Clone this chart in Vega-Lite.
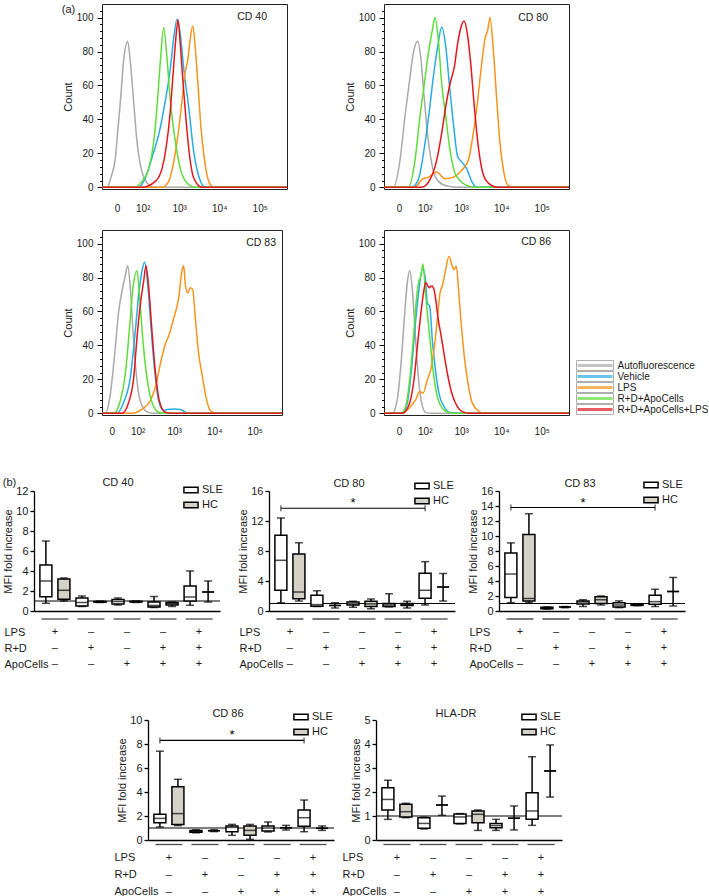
{
"$schema":"https://vega.github.io/schema/vega-lite/v6.json",
"padding":{"left":2,"top":3,"right":0,"bottom":0},
"background":"white",
"config":{
 "font":"Liberation Sans",
 "view":{"stroke":null},
 "axis":{"grid":false,"domainColor":"#000","tickColor":"#000","labelColor":"#1a1a1a","titleColor":"#1a1a1a","titleFontWeight":"normal","labelFontSize":11,"titleFontSize":11,"labelOverlap":false},
 "axisY":{"labelOverlap":false},
 "title":{"fontSize":11,"fontWeight":"normal","color":"#1a1a1a"},
 "legend":{"labelFontSize":11,"labelColor":"#1a1a1a"}
},
"datasets":{
"cd40":[
{"series":"Autofluorescence","intensity":-40,"count":0},{"series":"Autofluorescence","intensity":-22.6,"count":0},{"series":"Autofluorescence","intensity":-11.9,"count":6},{"series":"Autofluorescence","intensity":-2.9,"count":17},{"series":"Autofluorescence","intensity":1.9,"count":35},{"series":"Autofluorescence","intensity":6.4,"count":50},{"series":"Autofluorescence","intensity":14.1,"count":75},{"series":"Autofluorescence","intensity":25.4,"count":86},{"series":"Autofluorescence","intensity":34.2,"count":74},{"series":"Autofluorescence","intensity":47.9,"count":50},{"series":"Autofluorescence","intensity":63.9,"count":27},{"series":"Autofluorescence","intensity":94.8,"count":9},{"series":"Autofluorescence","intensity":152,"count":1.6},{"series":"Autofluorescence","intensity":231,"count":0},{"series":"Autofluorescence","intensity":470000,"count":0},
{"series":"Vehicle","intensity":-40,"count":0},{"series":"Vehicle","intensity":73.5,"count":0},{"series":"Vehicle","intensity":120.7,"count":5.5},{"series":"Vehicle","intensity":213,"count":21},{"series":"Vehicle","intensity":292.6,"count":31},{"series":"Vehicle","intensity":439,"count":51},{"series":"Vehicle","intensity":593,"count":70},{"series":"Vehicle","intensity":725,"count":88},{"series":"Vehicle","intensity":881,"count":99},{"series":"Vehicle","intensity":1069,"count":90},{"series":"Vehicle","intensity":1302,"count":70},{"series":"Vehicle","intensity":1740,"count":47},{"series":"Vehicle","intensity":2321,"count":21},{"series":"Vehicle","intensity":3202,"count":5.5},{"series":"Vehicle","intensity":4520,"count":0},{"series":"Vehicle","intensity":470000,"count":0},
{"series":"LPS","intensity":-40,"count":0},{"series":"LPS","intensity":359,"count":0},{"series":"LPS","intensity":538,"count":3.5},{"series":"LPS","intensity":725,"count":15},{"series":"LPS","intensity":934,"count":31},{"series":"LPS","intensity":1180,"count":51},{"series":"LPS","intensity":1380,"count":66},{"series":"LPS","intensity":1671,"count":76},{"series":"LPS","intensity":1909,"count":88},{"series":"LPS","intensity":2192,"count":95},{"series":"LPS","intensity":2545,"count":82},{"series":"LPS","intensity":2971,"count":60},{"series":"LPS","intensity":3529,"count":35},{"series":"LPS","intensity":4266,"count":17},{"series":"LPS","intensity":5489,"count":3.5},{"series":"LPS","intensity":7296,"count":0},{"series":"LPS","intensity":470000,"count":0},
{"series":"R+D+ApoCells","intensity":-40,"count":0},{"series":"R+D+ApoCells","intensity":55.4,"count":0},{"series":"R+D+ApoCells","intensity":94.8,"count":3.5},{"series":"R+D+ApoCells","intensity":152.7,"count":11},{"series":"R+D+ApoCells","intensity":213,"count":27},{"series":"R+D+ApoCells","intensity":262,"count":47},{"series":"R+D+ApoCells","intensity":323,"count":74},{"series":"R+D+ApoCells","intensity":398,"count":94},{"series":"R+D+ApoCells","intensity":486,"count":76},{"series":"R+D+ApoCells","intensity":593,"count":51},{"series":"R+D+ApoCells","intensity":797,"count":27},{"series":"R+D+ApoCells","intensity":1069,"count":11},{"series":"R+D+ApoCells","intensity":1577,"count":2.5},{"series":"R+D+ApoCells","intensity":2545,"count":0},{"series":"R+D+ApoCells","intensity":470000,"count":0},
{"series":"R+D+ApoCells+LPS","intensity":-40,"count":0},{"series":"R+D+ApoCells+LPS","intensity":94.8,"count":0},{"series":"R+D+ApoCells+LPS","intensity":235.5,"count":3.5},{"series":"R+D+ApoCells+LPS","intensity":359,"count":11},{"series":"R+D+ApoCells+LPS","intensity":458,"count":23},{"series":"R+D+ApoCells+LPS","intensity":593,"count":45},{"series":"R+D+ApoCells+LPS","intensity":684,"count":64},{"series":"R+D+ApoCells+LPS","intensity":797,"count":84},{"series":"R+D+ApoCells+LPS","intensity":934,"count":98.6},{"series":"R+D+ApoCells+LPS","intensity":1069,"count":84},{"series":"R+D+ApoCells+LPS","intensity":1229,"count":64},{"series":"R+D+ApoCells+LPS","intensity":1429,"count":45},{"series":"R+D+ApoCells+LPS","intensity":1740,"count":23},{"series":"R+D+ApoCells+LPS","intensity":2321,"count":5.5},{"series":"R+D+ApoCells+LPS","intensity":3737,"count":0},{"series":"R+D+ApoCells+LPS","intensity":470000,"count":0}
],
"cd80":[
{"series":"Autofluorescence","intensity":-40,"count":0},{"series":"Autofluorescence","intensity":-11.2,"count":0},{"series":"Autofluorescence","intensity":1.9,"count":16},{"series":"Autofluorescence","intensity":12.4,"count":42},{"series":"Autofluorescence","intensity":26.3,"count":65},{"series":"Autofluorescence","intensity":38,"count":79},{"series":"Autofluorescence","intensity":57.3,"count":86},{"series":"Autofluorescence","intensity":75.2,"count":75},{"series":"Autofluorescence","intensity":90,"count":59},{"series":"Autofluorescence","intensity":115.6,"count":36},{"series":"Autofluorescence","intensity":163.7,"count":14},{"series":"Autofluorescence","intensity":251,"count":3.5},{"series":"Autofluorescence","intensity":466,"count":0.6},{"series":"Autofluorescence","intensity":830,"count":0},{"series":"Autofluorescence","intensity":470000,"count":0},
{"series":"Vehicle","intensity":-40,"count":0},{"series":"Vehicle","intensity":32.1,"count":0},{"series":"Vehicle","intensity":60.3,"count":4.5},{"series":"Vehicle","intensity":102,"count":26},{"series":"Vehicle","intensity":136,"count":43.6},{"series":"Vehicle","intensity":181.6,"count":65},{"series":"Vehicle","intensity":241.5,"count":83},{"series":"Vehicle","intensity":311,"count":94.5},{"series":"Vehicle","intensity":398,"count":83},{"series":"Vehicle","intensity":495,"count":61},{"series":"Vehicle","intensity":629,"count":38},{"series":"Vehicle","intensity":816,"count":18},{"series":"Vehicle","intensity":1032,"count":15},{"series":"Vehicle","intensity":1380,"count":11},{"series":"Vehicle","intensity":1844,"count":3.5},{"series":"Vehicle","intensity":2459,"count":0},{"series":"Vehicle","intensity":470000,"count":0},
{"series":"LPS","intensity":-40,"count":0},{"series":"LPS","intensity":44.9,"count":0},{"series":"LPS","intensity":79.5,"count":4.5},{"series":"LPS","intensity":129.7,"count":6},{"series":"LPS","intensity":226.8,"count":9},{"series":"LPS","intensity":381,"count":5},{"series":"LPS","intensity":629,"count":6},{"series":"LPS","intensity":1032,"count":10},{"series":"LPS","intensity":1515,"count":16},{"series":"LPS","intensity":2022,"count":32},{"series":"LPS","intensity":2605,"count":51.5},{"series":"LPS","intensity":3277,"count":73},{"series":"LPS","intensity":3964,"count":87.7},{"series":"LPS","intensity":4621,"count":92.6},{"series":"LPS","intensity":5266,"count":100},{"series":"LPS","intensity":6366,"count":81},{"series":"LPS","intensity":7729,"count":51.5},{"series":"LPS","intensity":9314,"count":26},{"series":"LPS","intensity":11697,"count":8.4},{"series":"LPS","intensity":14940,"count":1},{"series":"LPS","intensity":21900,"count":0},{"series":"LPS","intensity":470000,"count":0},
{"series":"R+D+ApoCells","intensity":-40,"count":0},{"series":"R+D+ApoCells","intensity":21.2,"count":0},{"series":"R+D+ApoCells","intensity":44.9,"count":16},{"series":"R+D+ApoCells","intensity":69.4,"count":42},{"series":"R+D+ApoCells","intensity":97,"count":61},{"series":"R+D+ApoCells","intensity":129.7,"count":79},{"series":"R+D+ApoCells","intensity":170.3,"count":92.6},{"series":"R+D+ApoCells","intensity":203,"count":100},{"series":"R+D+ApoCells","intensity":251,"count":87},{"series":"R+D+ApoCells","intensity":311,"count":61},{"series":"R+D+ApoCells","intensity":398,"count":42},{"series":"R+D+ApoCells","intensity":516,"count":22},{"series":"R+D+ApoCells","intensity":696,"count":8.4},{"series":"R+D+ApoCells","intensity":1250,"count":1.6},{"series":"R+D+ApoCells","intensity":2229,"count":0},{"series":"R+D+ApoCells","intensity":470000,"count":0},
{"series":"R+D+ApoCells+LPS","intensity":-40,"count":0},{"series":"R+D+ApoCells+LPS","intensity":79.5,"count":0},{"series":"R+D+ApoCells+LPS","intensity":145,"count":4.5},{"series":"R+D+ApoCells+LPS","intensity":226.8,"count":16},{"series":"R+D+ApoCells+LPS","intensity":311,"count":32},{"series":"R+D+ApoCells+LPS","intensity":398,"count":47.5},{"series":"R+D+ApoCells+LPS","intensity":516,"count":61},{"series":"R+D+ApoCells+LPS","intensity":668,"count":71},{"series":"R+D+ApoCells+LPS","intensity":816,"count":85},{"series":"R+D+ApoCells+LPS","intensity":990,"count":94.5},{"series":"R+D+ApoCells+LPS","intensity":1180,"count":98},{"series":"R+D+ApoCells+LPS","intensity":1429,"count":90.6},{"series":"R+D+ApoCells+LPS","intensity":1740,"count":73},{"series":"R+D+ApoCells+LPS","intensity":2142,"count":47.5},{"series":"R+D+ApoCells+LPS","intensity":2696,"count":24},{"series":"R+D+ApoCells+LPS","intensity":3591,"count":7.4},{"series":"R+D+ApoCells+LPS","intensity":4782,"count":2.5},{"series":"R+D+ApoCells+LPS","intensity":8461,"count":0},{"series":"R+D+ApoCells+LPS","intensity":470000,"count":0}
],
"cd83":[
{"series":"Autofluorescence","intensity":-40,"count":0},{"series":"Autofluorescence","intensity":-13.6,"count":0},{"series":"Autofluorescence","intensity":-2.9,"count":11},{"series":"Autofluorescence","intensity":5.2,"count":35},{"series":"Autofluorescence","intensity":14.1,"count":60},{"series":"Autofluorescence","intensity":25.4,"count":74},{"series":"Autofluorescence","intensity":34.2,"count":81},{"series":"Autofluorescence","intensity":43.6,"count":87},{"series":"Autofluorescence","intensity":55.4,"count":74},{"series":"Autofluorescence","intensity":69.4,"count":48.5},{"series":"Autofluorescence","intensity":87.9,"count":25},{"series":"Autofluorescence","intensity":112.4,"count":9.4},{"series":"Autofluorescence","intensity":170.3,"count":1.6},{"series":"Autofluorescence","intensity":262,"count":0},{"series":"Autofluorescence","intensity":470000,"count":0},
{"series":"Vehicle","intensity":-40,"count":0},{"series":"Vehicle","intensity":10.1,"count":0},{"series":"Vehicle","intensity":28.6,"count":6.5},{"series":"Vehicle","intensity":55.4,"count":21},{"series":"Vehicle","intensity":79.5,"count":44.6},{"series":"Vehicle","intensity":107.6,"count":70},{"series":"Vehicle","intensity":136,"count":84},{"series":"Vehicle","intensity":163.7,"count":89},{"series":"Vehicle","intensity":203,"count":74},{"series":"Vehicle","intensity":251,"count":48.5},{"series":"Vehicle","intensity":311,"count":25},{"series":"Vehicle","intensity":398,"count":7.4},{"series":"Vehicle","intensity":538,"count":1.6},{"series":"Vehicle","intensity":656,"count":2.3},{"series":"Vehicle","intensity":1069,"count":2.5},{"series":"Vehicle","intensity":1429,"count":2.3},{"series":"Vehicle","intensity":1740,"count":1.2},{"series":"Vehicle","intensity":2321,"count":0},{"series":"Vehicle","intensity":470000,"count":0},
{"series":"LPS","intensity":-40,"count":0},{"series":"LPS","intensity":63.9,"count":0},{"series":"LPS","intensity":136,"count":2.5},{"series":"LPS","intensity":235.5,"count":7.4},{"series":"LPS","intensity":337,"count":17},{"series":"LPS","intensity":439,"count":29},{"series":"LPS","intensity":593,"count":40.7},{"series":"LPS","intensity":725,"count":45.6},{"series":"LPS","intensity":973,"count":56},{"series":"LPS","intensity":1302,"count":68},{"series":"LPS","intensity":1577,"count":84},{"series":"LPS","intensity":1740,"count":87},{"series":"LPS","intensity":1909,"count":76},{"series":"LPS","intensity":2192,"count":71},{"series":"LPS","intensity":2545,"count":74},{"series":"LPS","intensity":2922,"count":73},{"series":"LPS","intensity":3391,"count":56},{"series":"LPS","intensity":4122,"count":35},{"series":"LPS","intensity":4982,"count":23},{"series":"LPS","intensity":6260,"count":9.4},{"series":"LPS","intensity":7998,"count":1.6},{"series":"LPS","intensity":10627,"count":0},{"series":"LPS","intensity":470000,"count":0},
{"series":"R+D+ApoCells","intensity":-40,"count":0},{"series":"R+D+ApoCells","intensity":3.2,"count":0},{"series":"R+D+ApoCells","intensity":18.3,"count":7.4},{"series":"R+D+ApoCells","intensity":34.2,"count":23},{"series":"R+D+ApoCells","intensity":50.6,"count":48.5},{"series":"R+D+ApoCells","intensity":69.4,"count":74},{"series":"R+D+ApoCells","intensity":94.8,"count":84},{"series":"R+D+ApoCells","intensity":115.6,"count":68},{"series":"R+D+ApoCells","intensity":145,"count":42.7},{"series":"R+D+ApoCells","intensity":190,"count":21},{"series":"R+D+ApoCells","intensity":262,"count":6.5},{"series":"R+D+ApoCells","intensity":398,"count":0.6},{"series":"R+D+ApoCells","intensity":593,"count":0},{"series":"R+D+ApoCells","intensity":470000,"count":0},
{"series":"R+D+ApoCells+LPS","intensity":-40,"count":0},{"series":"R+D+ApoCells+LPS","intensity":23.2,"count":0},{"series":"R+D+ApoCells+LPS","intensity":47.9,"count":6.5},{"series":"R+D+ApoCells+LPS","intensity":73.5,"count":21},{"series":"R+D+ApoCells+LPS","intensity":94.8,"count":44.6},{"series":"R+D+ApoCells+LPS","intensity":120.7,"count":64},{"series":"R+D+ApoCells+LPS","intensity":152.7,"count":78},{"series":"R+D+ApoCells+LPS","intensity":178,"count":87},{"series":"R+D+ApoCells+LPS","intensity":213,"count":74},{"series":"R+D+ApoCells+LPS","intensity":262,"count":48.5},{"series":"R+D+ApoCells+LPS","intensity":323,"count":25},{"series":"R+D+ApoCells+LPS","intensity":413,"count":7.4},{"series":"R+D+ApoCells+LPS","intensity":593,"count":0.6},{"series":"R+D+ApoCells+LPS","intensity":881,"count":0},{"series":"R+D+ApoCells+LPS","intensity":470000,"count":0}
],
"cd86":[
{"series":"Autofluorescence","intensity":-40,"count":0},{"series":"Autofluorescence","intensity":-13.6,"count":0},{"series":"Autofluorescence","intensity":-2.9,"count":8},{"series":"Autofluorescence","intensity":4.4,"count":31.5},{"series":"Autofluorescence","intensity":11.7,"count":59},{"series":"Autofluorescence","intensity":18.3,"count":77},{"series":"Autofluorescence","intensity":25.4,"count":84},{"series":"Autofluorescence","intensity":34.2,"count":73},{"series":"Autofluorescence","intensity":44.9,"count":49},{"series":"Autofluorescence","intensity":58.8,"count":23.6},{"series":"Autofluorescence","intensity":77,"count":7},{"series":"Autofluorescence","intensity":107.6,"count":0.4},{"series":"Autofluorescence","intensity":170.3,"count":0},{"series":"Autofluorescence","intensity":470000,"count":0},
{"series":"Vehicle","intensity":-40,"count":0},{"series":"Vehicle","intensity":6.4,"count":0},{"series":"Vehicle","intensity":18.3,"count":6},{"series":"Vehicle","intensity":32.1,"count":27.6},{"series":"Vehicle","intensity":47.9,"count":55},{"series":"Vehicle","intensity":63.9,"count":73},{"series":"Vehicle","intensity":83.3,"count":85},{"series":"Vehicle","intensity":102,"count":81},{"series":"Vehicle","intensity":120.7,"count":65},{"series":"Vehicle","intensity":142.3,"count":63},{"series":"Vehicle","intensity":170.3,"count":43},{"series":"Vehicle","intensity":203,"count":27.6},{"series":"Vehicle","intensity":262,"count":11.8},{"series":"Vehicle","intensity":359,"count":4},{"series":"Vehicle","intensity":538,"count":0.4},{"series":"Vehicle","intensity":881,"count":0},{"series":"Vehicle","intensity":470000,"count":0},
{"series":"LPS","intensity":-40,"count":0},{"series":"LPS","intensity":6.4,"count":0},{"series":"LPS","intensity":23.2,"count":3},{"series":"LPS","intensity":47.9,"count":8},{"series":"LPS","intensity":67.8,"count":12.8},{"series":"LPS","intensity":87.9,"count":11.8},{"series":"LPS","intensity":120.7,"count":19.7},{"series":"LPS","intensity":152.7,"count":25.6},{"series":"LPS","intensity":190,"count":37.4},{"series":"LPS","intensity":235.5,"count":55},{"series":"LPS","intensity":280,"count":71},{"series":"LPS","intensity":323,"count":75},{"series":"LPS","intensity":381,"count":82.7},{"series":"LPS","intensity":486,"count":92.5},{"series":"LPS","intensity":593,"count":86.6},{"series":"LPS","intensity":656,"count":84.6},{"series":"LPS","intensity":751,"count":86.6},{"series":"LPS","intensity":881,"count":69},{"series":"LPS","intensity":1032,"count":49},{"series":"LPS","intensity":1229,"count":31.5},{"series":"LPS","intensity":1488,"count":17.7},{"series":"LPS","intensity":1909,"count":6},{"series":"LPS","intensity":2806,"count":1},{"series":"LPS","intensity":3737,"count":0},{"series":"LPS","intensity":470000,"count":0},
{"series":"R+D+ApoCells","intensity":-40,"count":0},{"series":"R+D+ApoCells","intensity":3.2,"count":0},{"series":"R+D+ApoCells","intensity":14.1,"count":4},{"series":"R+D+ApoCells","intensity":25.4,"count":20},{"series":"R+D+ApoCells","intensity":40.7,"count":49},{"series":"R+D+ApoCells","intensity":52.5,"count":69},{"series":"R+D+ApoCells","intensity":63.9,"count":78},{"series":"R+D+ApoCells","intensity":75.2,"count":81},{"series":"R+D+ApoCells","intensity":87.9,"count":88},{"series":"R+D+ApoCells","intensity":107.6,"count":69},{"series":"R+D+ApoCells","intensity":136,"count":49},{"series":"R+D+ApoCells","intensity":178,"count":25.6},{"series":"R+D+ApoCells","intensity":235.5,"count":9.8},{"series":"R+D+ApoCells","intensity":323,"count":3},{"series":"R+D+ApoCells","intensity":486,"count":0.4},{"series":"R+D+ApoCells","intensity":725,"count":0},{"series":"R+D+ApoCells","intensity":470000,"count":0},
{"series":"R+D+ApoCells+LPS","intensity":-40,"count":0},{"series":"R+D+ApoCells+LPS","intensity":6.4,"count":0},{"series":"R+D+ApoCells+LPS","intensity":23.2,"count":5},{"series":"R+D+ApoCells+LPS","intensity":40.7,"count":20},{"series":"R+D+ApoCells+LPS","intensity":60.3,"count":45},{"series":"R+D+ApoCells+LPS","intensity":79.5,"count":63},{"series":"R+D+ApoCells+LPS","intensity":94.8,"count":73},{"series":"R+D+ApoCells+LPS","intensity":107.6,"count":77},{"series":"R+D+ApoCells+LPS","intensity":136,"count":74},{"series":"R+D+ApoCells+LPS","intensity":163.7,"count":75},{"series":"R+D+ApoCells+LPS","intensity":190,"count":73},{"series":"R+D+ApoCells+LPS","intensity":213,"count":67},{"series":"R+D+ApoCells+LPS","intensity":251,"count":55},{"series":"R+D+ApoCells+LPS","intensity":292.6,"count":47},{"series":"R+D+ApoCells+LPS","intensity":359,"count":35},{"series":"R+D+ApoCells+LPS","intensity":439,"count":23.6},{"series":"R+D+ApoCells+LPS","intensity":593,"count":10.8},{"series":"R+D+ApoCells+LPS","intensity":797,"count":4},{"series":"R+D+ApoCells+LPS","intensity":1069,"count":1},{"series":"R+D+ApoCells+LPS","intensity":1577,"count":0},{"series":"R+D+ApoCells+LPS","intensity":470000,"count":0}
],
"legendRows":[{"series":"Autofluorescence"},{"series":"Vehicle"},{"series":"LPS"},{"series":"R+D+ApoCells"},{"series":"R+D+ApoCells+LPS"}],
"boxes":[
{"panel":"CD 40","treatment":"LPS","cohort":"SLE","min":0.77,"q1":1.43,"median":3.0,"q3":4.6,"max":7.0},
{"panel":"CD 40","treatment":"LPS","cohort":"HC","min":1.0,"q1":1.17,"median":2.07,"q3":3.2,"max":3.3},
{"panel":"CD 40","treatment":"R+D","cohort":"SLE","min":0.45,"q1":0.5,"median":0.85,"q3":1.3,"max":1.5},
{"panel":"CD 40","treatment":"R+D","cohort":"HC","min":0.85,"q1":0.88,"median":0.92,"q3":0.95,"max":1.0},
{"panel":"CD 40","treatment":"ApoCells","cohort":"SLE","min":0.6,"q1":0.7,"median":0.95,"q3":1.15,"max":1.3},
{"panel":"CD 40","treatment":"ApoCells","cohort":"HC","min":0.85,"q1":0.9,"median":0.93,"q3":0.97,"max":1.0},
{"panel":"CD 40","treatment":"R+D+ApoCells","cohort":"SLE","min":0.35,"q1":0.4,"median":0.55,"q3":0.9,"max":1.45},
{"panel":"CD 40","treatment":"R+D+ApoCells","cohort":"HC","min":0.45,"q1":0.6,"median":0.75,"q3":0.85,"max":0.9},
{"panel":"CD 40","treatment":"R+D+ApoCells+LPS","cohort":"SLE","min":0.57,"q1":1.0,"median":1.4,"q3":2.5,"max":4.0},
{"panel":"CD 40","treatment":"R+D+ApoCells+LPS","cohort":"HC","min":0.9,"q1":1.9,"median":1.9,"q3":1.9,"max":3.0},
{"panel":"CD 80","treatment":"LPS","cohort":"SLE","min":1.1,"q1":2.76,"median":6.76,"q3":10.1,"max":12.4},
{"panel":"CD 80","treatment":"LPS","cohort":"HC","min":1.33,"q1":1.64,"median":2.53,"q3":7.6,"max":9.1},
{"panel":"CD 80","treatment":"R+D","cohort":"SLE","min":0.6,"q1":0.65,"median":0.85,"q3":2.1,"max":2.7},
{"panel":"CD 80","treatment":"R+D","cohort":"HC","min":0.4,"q1":0.75,"median":0.75,"q3":0.75,"max":1.1},
{"panel":"CD 80","treatment":"ApoCells","cohort":"SLE","min":0.5,"q1":0.8,"median":0.95,"q3":1.2,"max":1.3},
{"panel":"CD 80","treatment":"ApoCells","cohort":"HC","min":0.3,"q1":0.6,"median":0.95,"q3":1.3,"max":1.6},
{"panel":"CD 80","treatment":"R+D+ApoCells","cohort":"SLE","min":0.55,"q1":0.6,"median":0.8,"q3":1.0,"max":2.3},
{"panel":"CD 80","treatment":"R+D+ApoCells","cohort":"HC","min":0.4,"q1":0.75,"median":0.9,"q3":1.0,"max":1.3},
{"panel":"CD 80","treatment":"R+D+ApoCells+LPS","cohort":"SLE","min":0.8,"q1":1.69,"median":2.76,"q3":5.02,"max":6.58},
{"panel":"CD 80","treatment":"R+D+ApoCells+LPS","cohort":"HC","min":1.33,"q1":3.2,"median":3.2,"q3":3.2,"max":5.0},
{"panel":"CD 83","treatment":"LPS","cohort":"SLE","min":1.12,"q1":1.79,"median":4.92,"q3":7.74,"max":9.08},
{"panel":"CD 83","treatment":"LPS","cohort":"HC","min":1.12,"q1":1.34,"median":1.66,"q3":10.2,"max":12.98},
{"panel":"CD 83","treatment":"R+D","cohort":"SLE","min":0.25,"q1":0.3,"median":0.4,"q3":0.5,"max":0.55},
{"panel":"CD 83","treatment":"R+D","cohort":"HC","min":0.45,"q1":0.55,"median":0.55,"q3":0.55,"max":0.6},
{"panel":"CD 83","treatment":"ApoCells","cohort":"SLE","min":0.6,"q1":0.95,"median":1.2,"q3":1.35,"max":1.5},
{"panel":"CD 83","treatment":"ApoCells","cohort":"HC","min":0.8,"q1":1.0,"median":1.5,"q3":1.9,"max":2.0},
{"panel":"CD 83","treatment":"R+D+ApoCells","cohort":"SLE","min":0.45,"q1":0.55,"median":0.8,"q3":1.1,"max":1.35},
{"panel":"CD 83","treatment":"R+D+ApoCells","cohort":"HC","min":0.7,"q1":0.75,"median":0.8,"q3":0.85,"max":0.9},
{"panel":"CD 83","treatment":"R+D+ApoCells+LPS","cohort":"SLE","min":0.6,"q1":0.9,"median":1.25,"q3":2.1,"max":2.9},
{"panel":"CD 83","treatment":"R+D+ApoCells+LPS","cohort":"HC","min":0.67,"q1":2.6,"median":2.6,"q3":2.6,"max":4.47},
{"panel":"CD 86","treatment":"LPS","cohort":"SLE","min":1.08,"q1":1.44,"median":1.8,"q3":2.14,"max":7.4},
{"panel":"CD 86","treatment":"LPS","cohort":"HC","min":1.2,"q1":1.3,"median":2.2,"q3":4.44,"max":5.06},
{"panel":"CD 86","treatment":"R+D","cohort":"SLE","min":0.6,"q1":0.65,"median":0.72,"q3":0.8,"max":0.85},
{"panel":"CD 86","treatment":"R+D","cohort":"HC","min":0.7,"q1":0.78,"median":0.78,"q3":0.78,"max":0.85},
{"panel":"CD 86","treatment":"ApoCells","cohort":"SLE","min":0.39,"q1":0.69,"median":1.05,"q3":1.17,"max":1.3},
{"panel":"CD 86","treatment":"ApoCells","cohort":"HC","min":0.06,"q1":0.39,"median":0.8,"q3":1.17,"max":1.3},
{"panel":"CD 86","treatment":"R+D+ApoCells","cohort":"SLE","min":0.67,"q1":0.75,"median":1.0,"q3":1.17,"max":1.5},
{"panel":"CD 86","treatment":"R+D+ApoCells","cohort":"HC","min":0.83,"q1":1.03,"median":1.03,"q3":1.03,"max":1.22},
{"panel":"CD 86","treatment":"R+D+ApoCells+LPS","cohort":"SLE","min":0.69,"q1":1.14,"median":1.86,"q3":2.5,"max":3.33},
{"panel":"CD 86","treatment":"R+D+ApoCells+LPS","cohort":"HC","min":0.8,"q1":0.97,"median":0.97,"q3":0.97,"max":1.17},
{"panel":"HLA-DR","treatment":"LPS","cohort":"SLE","min":0.86,"q1":1.25,"median":1.69,"q3":2.18,"max":2.49},
{"panel":"HLA-DR","treatment":"LPS","cohort":"HC","min":0.93,"q1":0.96,"median":1.18,"q3":1.49,"max":1.53},
{"panel":"HLA-DR","treatment":"R+D","cohort":"SLE","min":0.46,"q1":0.49,"median":0.69,"q3":0.93,"max":0.95},
{"panel":"HLA-DR","treatment":"R+D","cohort":"HC","min":1.03,"q1":1.46,"median":1.46,"q3":1.46,"max":1.83},
{"panel":"HLA-DR","treatment":"ApoCells","cohort":"SLE","min":0.67,"q1":0.69,"median":0.96,"q3":1.08,"max":1.1},
{"panel":"HLA-DR","treatment":"ApoCells","cohort":"HC","min":0.4,"q1":0.72,"median":1.07,"q3":1.21,"max":1.25},
{"panel":"HLA-DR","treatment":"R+D+ApoCells","cohort":"SLE","min":0.4,"q1":0.51,"median":0.6,"q3":0.69,"max":0.86},
{"panel":"HLA-DR","treatment":"R+D+ApoCells","cohort":"HC","min":0.42,"q1":0.91,"median":0.91,"q3":0.91,"max":1.42},
{"panel":"HLA-DR","treatment":"R+D+ApoCells+LPS","cohort":"SLE","min":0.61,"q1":0.86,"median":1.21,"q3":1.97,"max":3.47},
{"panel":"HLA-DR","treatment":"R+D+ApoCells+LPS","cohort":"HC","min":1.79,"q1":2.88,"median":2.88,"q3":2.88,"max":3.96}
],
"sig":[
{"panel":"CD 80","treatment":"LPS","cohort":"SLE","value":13.7},{"panel":"CD 80","treatment":"R+D+ApoCells+LPS","cohort":"SLE","value":13.7},
{"panel":"CD 83","treatment":"LPS","cohort":"SLE","value":13.8},{"panel":"CD 83","treatment":"R+D+ApoCells+LPS","cohort":"SLE","value":13.8},
{"panel":"CD 86","treatment":"LPS","cohort":"SLE","value":8.3},{"panel":"CD 86","treatment":"R+D+ApoCells+LPS","cohort":"SLE","value":8.3}
],
"star":[
{"panel":"CD 80","treatment":"ApoCells","cohort":"SLE","value":13.7,"label":"*"},
{"panel":"CD 83","treatment":"ApoCells","cohort":"SLE","value":13.8,"label":"*"},
{"panel":"CD 86","treatment":"ApoCells","cohort":"SLE","value":8.3,"label":"*"}
],
"design":[
{"treatment":"LPS","factor":"LPS","sign":"+"},{"treatment":"LPS","factor":"R+D","sign":"–"},{"treatment":"LPS","factor":"ApoCells","sign":"–"},
{"treatment":"R+D","factor":"LPS","sign":"–"},{"treatment":"R+D","factor":"R+D","sign":"+"},{"treatment":"R+D","factor":"ApoCells","sign":"–"},
{"treatment":"ApoCells","factor":"LPS","sign":"–"},{"treatment":"ApoCells","factor":"R+D","sign":"–"},{"treatment":"ApoCells","factor":"ApoCells","sign":"+"},
{"treatment":"R+D+ApoCells","factor":"LPS","sign":"–"},{"treatment":"R+D+ApoCells","factor":"R+D","sign":"+"},{"treatment":"R+D+ApoCells","factor":"ApoCells","sign":"+"},
{"treatment":"R+D+ApoCells+LPS","factor":"LPS","sign":"+"},{"treatment":"R+D+ApoCells+LPS","factor":"R+D","sign":"+"},{"treatment":"R+D+ApoCells+LPS","factor":"ApoCells","sign":"+"}
]
},
"resolve":{"scale":{"color":"independent","fill":"independent","xOffset":"independent"},"legend":{"color":"independent","fill":"independent"}},
"spacing":40,
"vconcat":[
{"spacing":0,
 "resolve":{"scale":{"color":"independent","fill":"independent","xOffset":"independent"},"legend":{"color":"independent","fill":"independent"}},
 "hconcat":[
  {"width":27,"height":20,"data":{"values":[]},"mark":"point"},
  {"title":{"text":"(a)","anchor":"start","offset":-22,"baseline":"bottom","fontSize":11,"fontWeight":"normal"},
   "spacing":15,
   "resolve":{"scale":{"color":"independent","fill":"independent","xOffset":"independent"},"legend":{"color":"independent","fill":"independent"}},
   "vconcat":[
    {"spacing":55,
     "resolve":{"scale":{"color":"independent","fill":"independent","xOffset":"independent"},"legend":{"color":"independent","fill":"independent"}},
     "hconcat":[
      {"width":185,"height":185,"view":{"stroke":"#222","strokeWidth":1},
       "title":{"text":"CD 40","anchor":"end","frame":"group","dx":-20,"offset":-28,"baseline":"bottom","fontSize":10.5,"fontWeight":"normal"},
       "data":{"name":"cd40"},
       "mark":{"type":"line","interpolate":"monotone","strokeWidth":1.5,"clip":true},
       "encoding":{
        "x":{"field":"intensity","type":"quantitative","scale":{"type":"symlog","constant":30,"domain":[-40,470000],"nice":false,"zero":false},"axis":{"values":[0,100,1000,10000,100000],"labelExpr":"datum.value === 0 ? '0' : datum.value === 100 ? '10²' : datum.value === 1000 ? '10³' : datum.value === 10000 ? '10⁴' : '10⁵'","ticks":false,"domain":false,"labelPadding":14,"labelFontSize":10,"labelOverlap":false,"labelFlush":false,"title":null}},
        "y":{"field":"count","type":"quantitative","scale":{"domain":[-1,108],"nice":false,"zero":false},"axis":{"values":[0,4,8,12,16,20,24,28,32,36,40,44,48,52,56,60,64,68,72,76,80,84,88,92,96,100,104],"labelExpr":"datum.value % 20 === 0 ? datum.label : ''","tickSize":{"condition":{"test":"datum.value % 20 === 0","value":5},"value":2.5},"tickWidth":1,"domain":false,"labelPadding":4,"labelFontSize":10,"labelOverlap":false,"labelFlush":false,"titlePadding":3,"title":"Count"}},
        "color":{"field":"series","type":"nominal","scale":{"domain":["Autofluorescence","Vehicle","LPS","R+D+ApoCells","R+D+ApoCells+LPS"],"range":["#a9a9a9","#29abe2","#f7941d","#5fdc3c","#e0191f"]},"legend":null}
       }},
      {"width":185,"height":185,"view":{"stroke":"#222","strokeWidth":1},
       "title":{"text":"CD 80","anchor":"end","frame":"group","dx":-21,"offset":-29,"baseline":"bottom","fontSize":10.5,"fontWeight":"normal"},
       "data":{"name":"cd80"},
       "mark":{"type":"line","interpolate":"monotone","strokeWidth":1.5,"clip":true},
       "encoding":{
        "x":{"field":"intensity","type":"quantitative","scale":{"type":"symlog","constant":30,"domain":[-40,470000],"nice":false,"zero":false},"axis":{"values":[0,100,1000,10000,100000],"labelExpr":"datum.value === 0 ? '0' : datum.value === 100 ? '10²' : datum.value === 1000 ? '10³' : datum.value === 10000 ? '10⁴' : '10⁵'","ticks":false,"domain":false,"labelPadding":14,"labelFontSize":10,"labelOverlap":false,"labelFlush":false,"title":null}},
        "y":{"field":"count","type":"quantitative","scale":{"domain":[-1,108],"nice":false,"zero":false},"axis":{"values":[0,4,8,12,16,20,24,28,32,36,40,44,48,52,56,60,64,68,72,76,80,84,88,92,96,100,104],"labelExpr":"datum.value % 20 === 0 ? datum.label : ''","tickSize":{"condition":{"test":"datum.value % 20 === 0","value":5},"value":2.5},"tickWidth":1,"domain":false,"labelPadding":4,"labelFontSize":10,"labelOverlap":false,"labelFlush":false,"titlePadding":3,"title":"Count"}},
        "color":{"field":"series","type":"nominal","scale":{"domain":["Autofluorescence","Vehicle","LPS","R+D+ApoCells","R+D+ApoCells+LPS"],"range":["#a9a9a9","#29abe2","#f7941d","#5fdc3c","#e0191f"]},"legend":null}
       }}
     ]},
    {"spacing":60,
     "resolve":{"scale":{"color":"independent","fill":"independent","xOffset":"independent"},"legend":{"color":"independent","fill":"independent"}},
     "hconcat":[
      {"width":180,"height":185,"view":{"stroke":"#222","strokeWidth":1},
       "title":{"text":"CD 83","anchor":"end","frame":"group","dx":-6,"offset":-28,"baseline":"bottom","fontSize":10.5,"fontWeight":"normal"},
       "data":{"name":"cd83"},
       "mark":{"type":"line","interpolate":"monotone","strokeWidth":1.5,"clip":true},
       "encoding":{
        "x":{"field":"intensity","type":"quantitative","scale":{"type":"symlog","constant":30,"domain":[-22.6,470000],"nice":false,"zero":false},"axis":{"values":[0,100,1000,10000,100000],"labelExpr":"datum.value === 0 ? '0' : datum.value === 100 ? '10²' : datum.value === 1000 ? '10³' : datum.value === 10000 ? '10⁴' : '10⁵'","ticks":false,"domain":false,"labelPadding":11,"labelFontSize":10,"labelOverlap":false,"labelFlush":false,"title":null}},
        "y":{"field":"count","type":"quantitative","scale":{"domain":[-1,108],"nice":false,"zero":false},"axis":{"values":[0,4,8,12,16,20,24,28,32,36,40,44,48,52,56,60,64,68,72,76,80,84,88,92,96,100,104],"labelExpr":"datum.value % 20 === 0 ? datum.label : ''","tickSize":{"condition":{"test":"datum.value % 20 === 0","value":5},"value":2.5},"tickWidth":1,"domain":false,"labelPadding":4,"labelFontSize":10,"labelOverlap":false,"labelFlush":false,"titlePadding":3,"title":"Count"}},
        "color":{"field":"series","type":"nominal","scale":{"domain":["Autofluorescence","Vehicle","LPS","R+D+ApoCells","R+D+ApoCells+LPS"],"range":["#a9a9a9","#29abe2","#f7941d","#5fdc3c","#e0191f"]},"legend":null}
       }},
      {"spacing":6,
       "resolve":{"scale":{"color":"independent","fill":"independent","xOffset":"independent"},"legend":{"color":"independent","fill":"independent"}},
       "hconcat":[
        {"width":185,"height":185,"view":{"stroke":"#222","strokeWidth":1},
         "title":{"text":"CD 86","anchor":"end","frame":"group","dx":-18,"offset":-27,"baseline":"bottom","fontSize":10.5,"fontWeight":"normal"},
         "data":{"name":"cd86"},
         "mark":{"type":"line","interpolate":"monotone","strokeWidth":1.5,"clip":true},
         "encoding":{
          "x":{"field":"intensity","type":"quantitative","scale":{"type":"symlog","constant":30,"domain":[-40,470000],"nice":false,"zero":false},"axis":{"values":[0,100,1000,10000,100000],"labelExpr":"datum.value === 0 ? '0' : datum.value === 100 ? '10²' : datum.value === 1000 ? '10³' : datum.value === 10000 ? '10⁴' : '10⁵'","ticks":false,"domain":false,"labelPadding":11,"labelFontSize":10,"labelOverlap":false,"labelFlush":false,"title":null}},
          "y":{"field":"count","type":"quantitative","scale":{"domain":[-1,108],"nice":false,"zero":false},"axis":{"values":[0,4,8,12,16,20,24,28,32,36,40,44,48,52,56,60,64,68,72,76,80,84,88,92,96,100,104],"labelExpr":"datum.value % 20 === 0 ? datum.label : ''","tickSize":{"condition":{"test":"datum.value % 20 === 0","value":5},"value":2.5},"tickWidth":1,"domain":false,"labelPadding":4,"labelFontSize":10,"labelOverlap":false,"labelFlush":false,"titlePadding":3,"title":"Count"}},
          "color":{"field":"series","type":"nominal","scale":{"domain":["Autofluorescence","Vehicle","LPS","R+D+ApoCells","R+D+ApoCells+LPS"],"range":["#a9a9a9","#29abe2","#f7941d","#5fdc3c","#e0191f"]},"legend":null}
         }},
        {"spacing":0,
         "resolve":{"scale":{"color":"independent","fill":"independent","xOffset":"independent"},"legend":{"color":"independent","fill":"independent"}},
         "vconcat":[
          {"width":38,"height":130,"data":{"values":[]},"mark":"point"},
          {"width":38,"height":55,"data":{"name":"legendRows"},
           "encoding":{"y":{"field":"series","type":"nominal","scale":{"type":"point","domain":["Autofluorescence","Vehicle","LPS","R+D+ApoCells","R+D+ApoCells+LPS"],"padding":0.5},"axis":{"orient":"right","title":null,"domain":false,"ticks":false,"labelPadding":3,"labelFontSize":10,"labelOverlap":false,"labelColor":"#1a1a1a"}}},
           "layer":[
            {"mark":{"type":"tick","orient":"horizontal","size":37,"thickness":10,"fill":"#ffffff","stroke":"#8c8c8c","strokeWidth":1}},
            {"mark":{"type":"tick","orient":"horizontal","size":35,"thickness":3},
             "encoding":{"color":{"field":"series","type":"nominal","scale":{"domain":["Autofluorescence","Vehicle","LPS","R+D+ApoCells","R+D+ApoCells+LPS"],"range":["#a9a9a9","#29abe2","#f7941d","#5fdc3c","#e0191f"]},"legend":null}}}
           ]}
         ]}
       ]}
     ]}
   ]}
 ]},
{"title":{"text":"(b)","anchor":"start","offset":-22,"baseline":"bottom","fontSize":11,"fontWeight":"normal"},
 "spacing":36,
 "resolve":{"scale":{"color":"independent","fill":"independent","xOffset":"independent"},"legend":{"color":"independent","fill":"independent"}},
 "vconcat":[
  {"spacing":14,
   "resolve":{"scale":{"color":"independent","fill":"independent","xOffset":"independent"},"legend":{"color":"independent","fill":"independent"}},
   "hconcat":[
    {"spacing":13,"bounds":"flush",
     "resolve":{"scale":{"color":"independent","fill":"independent","xOffset":"independent"},"legend":{"color":"independent","fill":"independent"}},
     "vconcat":[
      {"width":186,"height":120,
       "title":{"text":"CD 40","anchor":"middle","frame":"group","dx":-9,"offset":-17,"baseline":"bottom","fontSize":11,"fontWeight":"normal"},
       "layer":[
        {"data":{"values":[{"ref":1}]},"mark":{"type":"rule","color":"#000","strokeWidth":1.2},
         "encoding":{"y":{"field":"ref","type":"quantitative","title":"MFI fold increase","scale":{"domain":[0,12],"nice":false,"zero":true},"axis":{"values":[0,2,4,6,8,10,12],"tickSize":4,"tickWidth":1.3,"domainWidth":1.3,"labelPadding":2,"titlePadding":2,"labelOverlap":false,"labelFlush":false}}}},
        {"data":{"name":"boxes"},"transform":[{"filter":"datum.panel === 'CD 40'"}],
         "encoding":{
          "x":{"field":"treatment","type":"nominal","scale":{"type":"band","domain":["LPS","R+D","ApoCells","R+D+ApoCells","R+D+ApoCells+LPS"],"paddingInner":0,"paddingOuter":0.08},"axis":{"labels":false,"ticks":false,"title":null,"domainWidth":1.3}},
          "xOffset":{"field":"cohort","type":"nominal","scale":{"type":"band","domain":["SLE","HC"],"paddingInner":0,"paddingOuter":0}}},
         "layer":[
          {"mark":{"type":"rule","color":"#000","strokeWidth":1.5},"encoding":{"y":{"field":"min","type":"quantitative","title":"MFI fold increase","axis":{"values":[0,2,4,6,8,10,12],"tickSize":4,"tickWidth":1.3,"domainWidth":1.3,"labelPadding":2,"titlePadding":2,"labelOverlap":false,"labelFlush":false}},"y2":{"field":"max"}}},
          {"mark":{"type":"bar","width":12,"stroke":"#000","strokeWidth":1.5},"encoding":{"y":{"field":"q1","type":"quantitative","title":"MFI fold increase","axis":{"values":[0,2,4,6,8,10,12],"tickSize":4,"tickWidth":1.3,"domainWidth":1.3,"labelPadding":2,"titlePadding":2,"labelOverlap":false,"labelFlush":false}},"y2":{"field":"q3"},
            "fill":{"field":"cohort","type":"nominal","scale":{"domain":["SLE","HC"],"range":["#ffffff","#d4d2c6"]},"legend":{"orient":"none","legendX":149,"legendY":-9,"title":null,"symbolType":"M-1,-0.4H1V0.4H-1Z","symbolSize":200,"symbolStrokeColor":"#000","symbolStrokeWidth":1.5,"labelOffset":3,"rowPadding":1,"labelFontSize":11}}}},
          {"mark":{"type":"tick","orient":"horizontal","size":12,"thickness":1.5,"color":"#000"},"encoding":{"y":{"field":"median","type":"quantitative","title":"MFI fold increase","axis":{"values":[0,2,4,6,8,10,12],"tickSize":4,"tickWidth":1.3,"domainWidth":1.3,"labelPadding":2,"titlePadding":2,"labelOverlap":false,"labelFlush":false}}}},
          {"mark":{"type":"tick","orient":"horizontal","size":8,"thickness":1.5,"color":"#000"},"encoding":{"y":{"field":"min","type":"quantitative","title":"MFI fold increase","axis":{"values":[0,2,4,6,8,10,12],"tickSize":4,"tickWidth":1.3,"domainWidth":1.3,"labelPadding":2,"titlePadding":2,"labelOverlap":false,"labelFlush":false}}}},
          {"mark":{"type":"tick","orient":"horizontal","size":8,"thickness":1.5,"color":"#000"},"encoding":{"y":{"field":"max","type":"quantitative","title":"MFI fold increase","axis":{"values":[0,2,4,6,8,10,12],"tickSize":4,"tickWidth":1.3,"domainWidth":1.3,"labelPadding":2,"titlePadding":2,"labelOverlap":false,"labelFlush":false}}}}
         ]}
       ]},
      {"width":186,"height":48,"data":{"name":"design"},
       "encoding":{
        "x":{"field":"treatment","type":"nominal","scale":{"type":"band","domain":["LPS","R+D","ApoCells","R+D+ApoCells","R+D+ApoCells+LPS"],"paddingInner":0,"paddingOuter":0.08},"axis":null},
        "y":{"field":"factor","type":"nominal","scale":{"type":"point","domain":["LPS","R+D","ApoCells"],"padding":0.5},"axis":{"title":null,"domain":false,"ticks":false,"labelAlign":"left","labelPadding":30,"labelFontSize":11}}},
       "layer":[
        {"transform":[{"filter":"datum.factor === 'LPS'"}],"mark":{"type":"tick","orient":"horizontal","size":27,"thickness":1.3,"color":"#000","yOffset":-13}},
        {"mark":{"type":"text","fontSize":11,"color":"#1a1a1a"},"encoding":{"text":{"field":"sign"}}}
       ]}
     ]},
    {"spacing":11,
     "resolve":{"scale":{"color":"independent","fill":"independent","xOffset":"independent"},"legend":{"color":"independent","fill":"independent"}},
     "hconcat":[
      {"spacing":13,"bounds":"flush",
       "resolve":{"scale":{"color":"independent","fill":"independent","xOffset":"independent"},"legend":{"color":"independent","fill":"independent"}},
       "vconcat":[
        {"width":186,"height":120,
         "title":{"text":"CD 80","anchor":"middle","frame":"group","dx":-13,"offset":-22,"baseline":"bottom","fontSize":11,"fontWeight":"normal"},
         "layer":[
          {"data":{"values":[{"ref":1}]},"mark":{"type":"rule","color":"#000","strokeWidth":1.2},
           "encoding":{"y":{"field":"ref","type":"quantitative","title":"MFI fold increase","scale":{"domain":[0,16],"nice":false,"zero":true},"axis":{"values":[0,4,8,12,16],"tickSize":4,"tickWidth":1.3,"domainWidth":1.3,"labelPadding":2,"titlePadding":2,"labelOverlap":false,"labelFlush":false}}}},
          {"data":{"name":"boxes"},"transform":[{"filter":"datum.panel === 'CD 80'"}],
           "encoding":{
            "x":{"field":"treatment","type":"nominal","scale":{"type":"band","domain":["LPS","R+D","ApoCells","R+D+ApoCells","R+D+ApoCells+LPS"],"paddingInner":0,"paddingOuter":0.08},"axis":{"labels":false,"ticks":false,"title":null,"domainWidth":1.3}},
            "xOffset":{"field":"cohort","type":"nominal","scale":{"type":"band","domain":["SLE","HC"],"paddingInner":0,"paddingOuter":0}}},
           "layer":[
            {"mark":{"type":"rule","color":"#000","strokeWidth":1.5},"encoding":{"y":{"field":"min","type":"quantitative","title":"MFI fold increase","axis":{"values":[0,4,8,12,16],"tickSize":4,"tickWidth":1.3,"domainWidth":1.3,"labelPadding":2,"titlePadding":2,"labelOverlap":false,"labelFlush":false}},"y2":{"field":"max"}}},
            {"mark":{"type":"bar","width":12,"stroke":"#000","strokeWidth":1.5},"encoding":{"y":{"field":"q1","type":"quantitative","title":"MFI fold increase","axis":{"values":[0,4,8,12,16],"tickSize":4,"tickWidth":1.3,"domainWidth":1.3,"labelPadding":2,"titlePadding":2,"labelOverlap":false,"labelFlush":false}},"y2":{"field":"q3"},
              "fill":{"field":"cohort","type":"nominal","scale":{"domain":["SLE","HC"],"range":["#ffffff","#d4d2c6"]},"legend":{"orient":"none","legendX":145,"legendY":-13,"title":null,"symbolType":"M-1,-0.4H1V0.4H-1Z","symbolSize":200,"symbolStrokeColor":"#000","symbolStrokeWidth":1.5,"labelOffset":3,"rowPadding":1,"labelFontSize":11}}}},
            {"mark":{"type":"tick","orient":"horizontal","size":12,"thickness":1.5,"color":"#000"},"encoding":{"y":{"field":"median","type":"quantitative","title":"MFI fold increase","axis":{"values":[0,4,8,12,16],"tickSize":4,"tickWidth":1.3,"domainWidth":1.3,"labelPadding":2,"titlePadding":2,"labelOverlap":false,"labelFlush":false}}}},
            {"mark":{"type":"tick","orient":"horizontal","size":8,"thickness":1.5,"color":"#000"},"encoding":{"y":{"field":"min","type":"quantitative","title":"MFI fold increase","axis":{"values":[0,4,8,12,16],"tickSize":4,"tickWidth":1.3,"domainWidth":1.3,"labelPadding":2,"titlePadding":2,"labelOverlap":false,"labelFlush":false}}}},
            {"mark":{"type":"tick","orient":"horizontal","size":8,"thickness":1.5,"color":"#000"},"encoding":{"y":{"field":"max","type":"quantitative","title":"MFI fold increase","axis":{"values":[0,4,8,12,16],"tickSize":4,"tickWidth":1.3,"domainWidth":1.3,"labelPadding":2,"titlePadding":2,"labelOverlap":false,"labelFlush":false}}}}
           ]},
          {"data":{"name":"sig"},"transform":[{"filter":"datum.panel === 'CD 80'"}],
           "encoding":{"x":{"field":"treatment","type":"nominal"},"xOffset":{"field":"cohort","type":"nominal"},"y":{"field":"value","type":"quantitative","title":"MFI fold increase","axis":{"values":[0,4,8,12,16],"tickSize":4,"tickWidth":1.3,"domainWidth":1.3,"labelPadding":2,"titlePadding":2,"labelOverlap":false,"labelFlush":false}}},
           "layer":[
            {"mark":{"type":"line","color":"#000","strokeWidth":1.2},"encoding":{}},
            {"mark":{"type":"tick","orient":"vertical","size":6,"thickness":1.2,"color":"#000"},"encoding":{}}
           ]},
          {"data":{"name":"star"},"transform":[{"filter":"datum.panel === 'CD 80'"}],
           "mark":{"type":"text","fontSize":13,"dy":-5,"color":"#000"},
           "encoding":{"x":{"field":"treatment","type":"nominal"},"xOffset":{"field":"cohort","type":"nominal"},"y":{"field":"value","type":"quantitative","title":"MFI fold increase","axis":{"values":[0,4,8,12,16],"tickSize":4,"tickWidth":1.3,"domainWidth":1.3,"labelPadding":2,"titlePadding":2,"labelOverlap":false,"labelFlush":false}},"text":{"field":"label"}}}
         ]},
        {"width":186,"height":48,"data":{"name":"design"},
         "encoding":{
          "x":{"field":"treatment","type":"nominal","scale":{"type":"band","domain":["LPS","R+D","ApoCells","R+D+ApoCells","R+D+ApoCells+LPS"],"paddingInner":0,"paddingOuter":0.08},"axis":null},
          "y":{"field":"factor","type":"nominal","scale":{"type":"point","domain":["LPS","R+D","ApoCells"],"padding":0.5},"axis":{"title":null,"domain":false,"ticks":false,"labelAlign":"left","labelPadding":30,"labelFontSize":11}}},
         "layer":[
          {"transform":[{"filter":"datum.factor === 'LPS'"}],"mark":{"type":"tick","orient":"horizontal","size":27,"thickness":1.3,"color":"#000","yOffset":-13}},
          {"mark":{"type":"text","fontSize":11,"color":"#1a1a1a"},"encoding":{"text":{"field":"sign"}}}
         ]}
       ]},
      {"spacing":13,"bounds":"flush",
       "resolve":{"scale":{"color":"independent","fill":"independent","xOffset":"independent"},"legend":{"color":"independent","fill":"independent"}},
       "vconcat":[
        {"width":186,"height":120,
         "title":{"text":"CD 83","anchor":"middle","frame":"group","dx":-12,"offset":-23,"baseline":"bottom","fontSize":11,"fontWeight":"normal"},
         "layer":[
          {"data":{"values":[{"ref":1}]},"mark":{"type":"rule","color":"#000","strokeWidth":1.2},
           "encoding":{"y":{"field":"ref","type":"quantitative","title":"MFI fold increase","scale":{"domain":[0,16],"nice":false,"zero":true},"axis":{"values":[0,2,4,6,8,10,12,14,16],"tickSize":4,"tickWidth":1.3,"domainWidth":1.3,"labelPadding":2,"titlePadding":2,"labelOverlap":false,"labelFlush":false}}}},
          {"data":{"name":"boxes"},"transform":[{"filter":"datum.panel === 'CD 83'"}],
           "encoding":{
            "x":{"field":"treatment","type":"nominal","scale":{"type":"band","domain":["LPS","R+D","ApoCells","R+D+ApoCells","R+D+ApoCells+LPS"],"paddingInner":0,"paddingOuter":0.08},"axis":{"labels":false,"ticks":false,"title":null,"domainWidth":1.3}},
            "xOffset":{"field":"cohort","type":"nominal","scale":{"type":"band","domain":["SLE","HC"],"paddingInner":0,"paddingOuter":0}}},
           "layer":[
            {"mark":{"type":"rule","color":"#000","strokeWidth":1.5},"encoding":{"y":{"field":"min","type":"quantitative","title":"MFI fold increase","axis":{"values":[0,2,4,6,8,10,12,14,16],"tickSize":4,"tickWidth":1.3,"domainWidth":1.3,"labelPadding":2,"titlePadding":2,"labelOverlap":false,"labelFlush":false}},"y2":{"field":"max"}}},
            {"mark":{"type":"bar","width":12,"stroke":"#000","strokeWidth":1.5},"encoding":{"y":{"field":"q1","type":"quantitative","title":"MFI fold increase","axis":{"values":[0,2,4,6,8,10,12,14,16],"tickSize":4,"tickWidth":1.3,"domainWidth":1.3,"labelPadding":2,"titlePadding":2,"labelOverlap":false,"labelFlush":false}},"y2":{"field":"q3"},
              "fill":{"field":"cohort","type":"nominal","scale":{"domain":["SLE","HC"],"range":["#ffffff","#d4d2c6"]},"legend":{"orient":"none","legendX":144,"legendY":-14,"title":null,"symbolType":"M-1,-0.4H1V0.4H-1Z","symbolSize":200,"symbolStrokeColor":"#000","symbolStrokeWidth":1.5,"labelOffset":3,"rowPadding":1,"labelFontSize":11}}}},
            {"mark":{"type":"tick","orient":"horizontal","size":12,"thickness":1.5,"color":"#000"},"encoding":{"y":{"field":"median","type":"quantitative","title":"MFI fold increase","axis":{"values":[0,2,4,6,8,10,12,14,16],"tickSize":4,"tickWidth":1.3,"domainWidth":1.3,"labelPadding":2,"titlePadding":2,"labelOverlap":false,"labelFlush":false}}}},
            {"mark":{"type":"tick","orient":"horizontal","size":8,"thickness":1.5,"color":"#000"},"encoding":{"y":{"field":"min","type":"quantitative","title":"MFI fold increase","axis":{"values":[0,2,4,6,8,10,12,14,16],"tickSize":4,"tickWidth":1.3,"domainWidth":1.3,"labelPadding":2,"titlePadding":2,"labelOverlap":false,"labelFlush":false}}}},
            {"mark":{"type":"tick","orient":"horizontal","size":8,"thickness":1.5,"color":"#000"},"encoding":{"y":{"field":"max","type":"quantitative","title":"MFI fold increase","axis":{"values":[0,2,4,6,8,10,12,14,16],"tickSize":4,"tickWidth":1.3,"domainWidth":1.3,"labelPadding":2,"titlePadding":2,"labelOverlap":false,"labelFlush":false}}}}
           ]},
          {"data":{"name":"sig"},"transform":[{"filter":"datum.panel === 'CD 83'"}],
           "encoding":{"x":{"field":"treatment","type":"nominal"},"xOffset":{"field":"cohort","type":"nominal"},"y":{"field":"value","type":"quantitative","title":"MFI fold increase","axis":{"values":[0,2,4,6,8,10,12,14,16],"tickSize":4,"tickWidth":1.3,"domainWidth":1.3,"labelPadding":2,"titlePadding":2,"labelOverlap":false,"labelFlush":false}}},
           "layer":[
            {"mark":{"type":"line","color":"#000","strokeWidth":1.2},"encoding":{}},
            {"mark":{"type":"tick","orient":"vertical","size":6,"thickness":1.2,"color":"#000"},"encoding":{}}
           ]},
          {"data":{"name":"star"},"transform":[{"filter":"datum.panel === 'CD 83'"}],
           "mark":{"type":"text","fontSize":13,"dy":-5,"color":"#000"},
           "encoding":{"x":{"field":"treatment","type":"nominal"},"xOffset":{"field":"cohort","type":"nominal"},"y":{"field":"value","type":"quantitative","title":"MFI fold increase","axis":{"values":[0,2,4,6,8,10,12,14,16],"tickSize":4,"tickWidth":1.3,"domainWidth":1.3,"labelPadding":2,"titlePadding":2,"labelOverlap":false,"labelFlush":false}},"text":{"field":"label"}}}
         ]},
        {"width":186,"height":48,"data":{"name":"design"},
         "encoding":{
          "x":{"field":"treatment","type":"nominal","scale":{"type":"band","domain":["LPS","R+D","ApoCells","R+D+ApoCells","R+D+ApoCells+LPS"],"paddingInner":0,"paddingOuter":0.08},"axis":null},
          "y":{"field":"factor","type":"nominal","scale":{"type":"point","domain":["LPS","R+D","ApoCells"],"padding":0.5},"axis":{"title":null,"domain":false,"ticks":false,"labelAlign":"left","labelPadding":30,"labelFontSize":11}}},
         "layer":[
          {"transform":[{"filter":"datum.factor === 'LPS'"}],"mark":{"type":"tick","orient":"horizontal","size":27,"thickness":1.3,"color":"#000","yOffset":-13}},
          {"mark":{"type":"text","fontSize":11,"color":"#1a1a1a"},"encoding":{"text":{"field":"sign"}}}
         ]}
       ]}
     ]}
   ]},
  {"spacing":7,
   "resolve":{"scale":{"color":"independent","fill":"independent","xOffset":"independent"},"legend":{"color":"independent","fill":"independent"}},
   "hconcat":[
    {"width":73,"height":10,"data":{"values":[]},"mark":"point"},
    {"spacing":9,"bounds":"flush",
     "resolve":{"scale":{"color":"independent","fill":"independent","xOffset":"independent"},"legend":{"color":"independent","fill":"independent"}},
     "vconcat":[
      {"width":186,"height":120,
       "title":{"text":"CD 86","anchor":"middle","frame":"group","dx":-13,"offset":-21,"baseline":"bottom","fontSize":11,"fontWeight":"normal"},
       "layer":[
        {"data":{"values":[{"ref":1}]},"mark":{"type":"rule","color":"#000","strokeWidth":1.2},
         "encoding":{"y":{"field":"ref","type":"quantitative","title":"MFI fold increase","scale":{"domain":[0,10],"nice":false,"zero":true},"axis":{"values":[0,2,4,6,8,10],"tickSize":4,"tickWidth":1.3,"domainWidth":1.3,"labelPadding":2,"titlePadding":2,"labelOverlap":false,"labelFlush":false}}}},
        {"data":{"name":"boxes"},"transform":[{"filter":"datum.panel === 'CD 86'"}],
         "encoding":{
          "x":{"field":"treatment","type":"nominal","scale":{"type":"band","domain":["LPS","R+D","ApoCells","R+D+ApoCells","R+D+ApoCells+LPS"],"paddingInner":0,"paddingOuter":0.08},"axis":{"labels":false,"ticks":false,"title":null,"domainWidth":1.3}},
          "xOffset":{"field":"cohort","type":"nominal","scale":{"type":"band","domain":["SLE","HC"],"paddingInner":0,"paddingOuter":0}}},
         "layer":[
          {"mark":{"type":"rule","color":"#000","strokeWidth":1.5},"encoding":{"y":{"field":"min","type":"quantitative","title":"MFI fold increase","axis":{"values":[0,2,4,6,8,10],"tickSize":4,"tickWidth":1.3,"domainWidth":1.3,"labelPadding":2,"titlePadding":2,"labelOverlap":false,"labelFlush":false}},"y2":{"field":"max"}}},
          {"mark":{"type":"bar","width":12,"stroke":"#000","strokeWidth":1.5},"encoding":{"y":{"field":"q1","type":"quantitative","title":"MFI fold increase","axis":{"values":[0,2,4,6,8,10],"tickSize":4,"tickWidth":1.3,"domainWidth":1.3,"labelPadding":2,"titlePadding":2,"labelOverlap":false,"labelFlush":false}},"y2":{"field":"q3"},
            "fill":{"field":"cohort","type":"nominal","scale":{"domain":["SLE","HC"],"range":["#ffffff","#d4d2c6"]},"legend":{"orient":"none","legendX":145,"legendY":-11,"title":null,"symbolType":"M-1,-0.4H1V0.4H-1Z","symbolSize":200,"symbolStrokeColor":"#000","symbolStrokeWidth":1.5,"labelOffset":3,"rowPadding":1,"labelFontSize":11}}}},
          {"mark":{"type":"tick","orient":"horizontal","size":12,"thickness":1.5,"color":"#000"},"encoding":{"y":{"field":"median","type":"quantitative","title":"MFI fold increase","axis":{"values":[0,2,4,6,8,10],"tickSize":4,"tickWidth":1.3,"domainWidth":1.3,"labelPadding":2,"titlePadding":2,"labelOverlap":false,"labelFlush":false}}}},
          {"mark":{"type":"tick","orient":"horizontal","size":8,"thickness":1.5,"color":"#000"},"encoding":{"y":{"field":"min","type":"quantitative","title":"MFI fold increase","axis":{"values":[0,2,4,6,8,10],"tickSize":4,"tickWidth":1.3,"domainWidth":1.3,"labelPadding":2,"titlePadding":2,"labelOverlap":false,"labelFlush":false}}}},
          {"mark":{"type":"tick","orient":"horizontal","size":8,"thickness":1.5,"color":"#000"},"encoding":{"y":{"field":"max","type":"quantitative","title":"MFI fold increase","axis":{"values":[0,2,4,6,8,10],"tickSize":4,"tickWidth":1.3,"domainWidth":1.3,"labelPadding":2,"titlePadding":2,"labelOverlap":false,"labelFlush":false}}}}
         ]},
        {"data":{"name":"sig"},"transform":[{"filter":"datum.panel === 'CD 86'"}],
         "encoding":{"x":{"field":"treatment","type":"nominal"},"xOffset":{"field":"cohort","type":"nominal"},"y":{"field":"value","type":"quantitative","title":"MFI fold increase","axis":{"values":[0,2,4,6,8,10],"tickSize":4,"tickWidth":1.3,"domainWidth":1.3,"labelPadding":2,"titlePadding":2,"labelOverlap":false,"labelFlush":false}}},
         "layer":[
          {"mark":{"type":"line","color":"#000","strokeWidth":1.2},"encoding":{}},
          {"mark":{"type":"tick","orient":"vertical","size":6,"thickness":1.2,"color":"#000"},"encoding":{}}
         ]},
        {"data":{"name":"star"},"transform":[{"filter":"datum.panel === 'CD 86'"}],
         "mark":{"type":"text","fontSize":13,"dy":-5,"color":"#000"},
         "encoding":{"x":{"field":"treatment","type":"nominal"},"xOffset":{"field":"cohort","type":"nominal"},"y":{"field":"value","type":"quantitative","title":"MFI fold increase","axis":{"values":[0,2,4,6,8,10],"tickSize":4,"tickWidth":1.3,"domainWidth":1.3,"labelPadding":2,"titlePadding":2,"labelOverlap":false,"labelFlush":false}},"text":{"field":"label"}}}
       ]},
      {"width":186,"height":51,"data":{"name":"design"},
       "encoding":{
        "x":{"field":"treatment","type":"nominal","scale":{"type":"band","domain":["LPS","R+D","ApoCells","R+D+ApoCells","R+D+ApoCells+LPS"],"paddingInner":0,"paddingOuter":0.08},"axis":null},
        "y":{"field":"factor","type":"nominal","scale":{"type":"point","domain":["LPS","R+D","ApoCells"],"padding":0.5},"axis":{"title":null,"domain":false,"ticks":false,"labelAlign":"left","labelPadding":34,"labelFontSize":11}}},
       "layer":[
        {"transform":[{"filter":"datum.factor === 'LPS'"}],"mark":{"type":"tick","orient":"horizontal","size":27,"thickness":1.3,"color":"#000","yOffset":-13}},
        {"mark":{"type":"text","fontSize":11,"color":"#1a1a1a"},"encoding":{"text":{"field":"sign"}}}
       ]}
     ]},
    {"spacing":9,"bounds":"flush",
     "resolve":{"scale":{"color":"independent","fill":"independent","xOffset":"independent"},"legend":{"color":"independent","fill":"independent"}},
     "vconcat":[
      {"width":186,"height":120,
       "title":{"text":"HLA-DR","anchor":"middle","frame":"group","dx":-13,"offset":-21,"baseline":"bottom","fontSize":11,"fontWeight":"normal"},
       "layer":[
        {"data":{"values":[{"ref":1}]},"mark":{"type":"rule","color":"#000","strokeWidth":1.2},
         "encoding":{"y":{"field":"ref","type":"quantitative","title":"MFI fold increase","scale":{"domain":[0,5],"nice":false,"zero":true},"axis":{"values":[0,1,2,3,4,5],"tickSize":4,"tickWidth":1.3,"domainWidth":1.3,"labelPadding":2,"titlePadding":2,"labelOverlap":false,"labelFlush":false}}}},
        {"data":{"name":"boxes"},"transform":[{"filter":"datum.panel === 'HLA-DR'"}],
         "encoding":{
          "x":{"field":"treatment","type":"nominal","scale":{"type":"band","domain":["LPS","R+D","ApoCells","R+D+ApoCells","R+D+ApoCells+LPS"],"paddingInner":0,"paddingOuter":0.08},"axis":{"labels":false,"ticks":false,"title":null,"domainWidth":1.3}},
          "xOffset":{"field":"cohort","type":"nominal","scale":{"type":"band","domain":["SLE","HC"],"paddingInner":0,"paddingOuter":0}}},
         "layer":[
          {"mark":{"type":"rule","color":"#000","strokeWidth":1.5},"encoding":{"y":{"field":"min","type":"quantitative","title":"MFI fold increase","axis":{"values":[0,1,2,3,4,5],"tickSize":4,"tickWidth":1.3,"domainWidth":1.3,"labelPadding":2,"titlePadding":2,"labelOverlap":false,"labelFlush":false}},"y2":{"field":"max"}}},
          {"mark":{"type":"bar","width":12,"stroke":"#000","strokeWidth":1.5},"encoding":{"y":{"field":"q1","type":"quantitative","title":"MFI fold increase","axis":{"values":[0,1,2,3,4,5],"tickSize":4,"tickWidth":1.3,"domainWidth":1.3,"labelPadding":2,"titlePadding":2,"labelOverlap":false,"labelFlush":false}},"y2":{"field":"q3"},
            "fill":{"field":"cohort","type":"nominal","scale":{"domain":["SLE","HC"],"range":["#ffffff","#d4d2c6"]},"legend":{"orient":"none","legendX":145,"legendY":-11,"title":null,"symbolType":"M-1,-0.4H1V0.4H-1Z","symbolSize":200,"symbolStrokeColor":"#000","symbolStrokeWidth":1.5,"labelOffset":3,"rowPadding":1,"labelFontSize":11}}}},
          {"mark":{"type":"tick","orient":"horizontal","size":12,"thickness":1.5,"color":"#000"},"encoding":{"y":{"field":"median","type":"quantitative","title":"MFI fold increase","axis":{"values":[0,1,2,3,4,5],"tickSize":4,"tickWidth":1.3,"domainWidth":1.3,"labelPadding":2,"titlePadding":2,"labelOverlap":false,"labelFlush":false}}}},
          {"mark":{"type":"tick","orient":"horizontal","size":8,"thickness":1.5,"color":"#000"},"encoding":{"y":{"field":"min","type":"quantitative","title":"MFI fold increase","axis":{"values":[0,1,2,3,4,5],"tickSize":4,"tickWidth":1.3,"domainWidth":1.3,"labelPadding":2,"titlePadding":2,"labelOverlap":false,"labelFlush":false}}}},
          {"mark":{"type":"tick","orient":"horizontal","size":8,"thickness":1.5,"color":"#000"},"encoding":{"y":{"field":"max","type":"quantitative","title":"MFI fold increase","axis":{"values":[0,1,2,3,4,5],"tickSize":4,"tickWidth":1.3,"domainWidth":1.3,"labelPadding":2,"titlePadding":2,"labelOverlap":false,"labelFlush":false}}}}
         ]}
       ]},
      {"width":186,"height":51,"data":{"name":"design"},
       "encoding":{
        "x":{"field":"treatment","type":"nominal","scale":{"type":"band","domain":["LPS","R+D","ApoCells","R+D+ApoCells","R+D+ApoCells+LPS"],"paddingInner":0,"paddingOuter":0.08},"axis":null},
        "y":{"field":"factor","type":"nominal","scale":{"type":"point","domain":["LPS","R+D","ApoCells"],"padding":0.5},"axis":{"title":null,"domain":false,"ticks":false,"labelAlign":"left","labelPadding":34,"labelFontSize":11}}},
       "layer":[
        {"transform":[{"filter":"datum.factor === 'LPS'"}],"mark":{"type":"tick","orient":"horizontal","size":27,"thickness":1.3,"color":"#000","yOffset":-13}},
        {"mark":{"type":"text","fontSize":11,"color":"#1a1a1a"},"encoding":{"text":{"field":"sign"}}}
       ]}
     ]}
   ]}
 ]}
]
}
